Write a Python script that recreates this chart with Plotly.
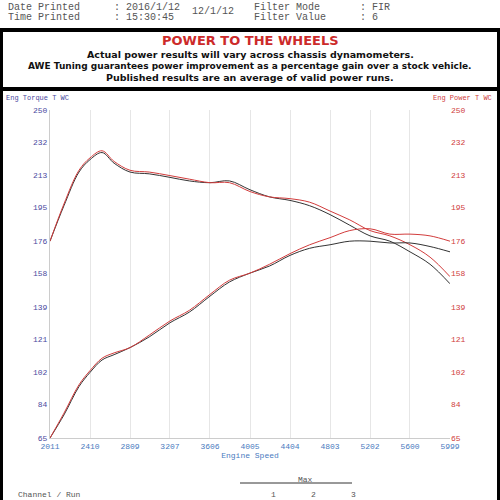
import plotly.graph_objects as go

rpm = [2011, 2150, 2300, 2410, 2530, 2650, 2809, 3000, 3207, 3400, 3606, 3800, 4005, 4200, 4404, 4600, 4803, 5000, 5202, 5400, 5600, 5800, 5999]
tq_black = [176, 196, 215, 222, 226, 220, 215, 214, 212, 210, 209, 210, 205, 201, 199, 196, 191, 185, 179, 176, 170, 163, 152]
tq_red = [176, 197, 216, 223, 227, 221, 216, 215, 213, 211, 209, 209, 204, 201, 200, 198, 193, 188, 182, 179, 174, 167, 156]
pw_black = [65, 78, 94, 102, 109, 112, 116, 122, 130, 136, 145, 153, 158, 162, 168, 172, 174, 176, 176, 175, 175, 173, 170]
pw_red = [65, 79, 95, 103, 110, 113, 116, 123, 131, 137, 146, 154, 158, 163, 169, 174, 178, 182, 183, 180, 180, 179, 176]
ticks = [65, 84, 102, 121, 139, 158, 176, 195, 213, 232, 250]
xticks = [2011, 2410, 2809, 3207, 3606, 4005, 4404, 4803, 5202, 5600, 5999]

fig = go.Figure()
for y, c in [(tq_black, "#333"), (tq_red, "#d23c3c"), (pw_black, "#333"), (pw_red, "#d23c3c")]:
    fig.add_trace(go.Scatter(x=rpm, y=y, mode="lines", line=dict(color=c, width=1, shape="spline"), showlegend=False))
fig.add_trace(go.Scatter(x=[2011], y=[65], yaxis="y2", mode="markers", marker=dict(opacity=0), showlegend=False))

mono = "Liberation Mono"
fig.update_layout(
    width=500, height=500, margin=dict(l=50, r=50, t=110, b=62, autoexpand=False),
    paper_bgcolor="white", plot_bgcolor="white",
    xaxis=dict(range=[2011, 5999], tickvals=xticks, tickfont=dict(family=mono, size=8, color="#4a7bc0"),
               showgrid=True, gridcolor="#e6e6e6", zeroline=False, showline=True, linecolor="#ccc", automargin=False,
               title=dict(text="Engine Speed", font=dict(family=mono, size=8, color="#4a7bc0"), standoff=2)),
    yaxis=dict(range=[65, 250], tickvals=ticks, tickfont=dict(family=mono, size=8, color="#4a4aa0"), automargin=False,
               showgrid=False, zeroline=False, showline=True, linecolor="#ccc"),
    yaxis2=dict(range=[65, 250], tickvals=ticks, overlaying="y", side="right", automargin=False,
                tickfont=dict(family=mono, size=8, color="#d04040"), showgrid=False, zeroline=False),
)
X = lambda px: (px - 50) / 400
Y = lambda py: (438 - py) / 328

def txt(px, py, t, size=10, color="#555", anchor="left", fam=mono, bold=False):
    fig.add_annotation(x=X(px), y=Y(py), xref="paper", yref="paper",
                       text=f"<b>{t}</b>" if bold else t, showarrow=False, xanchor=anchor, yanchor="middle",
                       font=dict(family=fam, size=size, color=color))

for px, py, t in [(6, 8, "Date Printed"), (6, 18, "Time Printed"), (112, 8, ": 2016/1/12"),
                  (112, 18, ": 15:30:45"), (190, 12, "12/1/12"), (252, 8, "Filter Mode"),
                  (252, 18, "Filter Value"), (358, 8, ": FIR"), (358, 18, ": 6")]:
    txt(px, py, t)
txt(250, 41, "POWER TO THE WHEELS", 13, "#cc2a2a", "center", "DejaVu Sans", True)
txt(250, 54, "Actual power results will vary across chassis dynamometers.", 9.5, "#111", "center", "DejaVu Sans", True)
txt(250, 66, "AWE Tuning guarantees power improvement as a percentage gain over a stock vehicle.", 9, "#111", "center", "DejaVu Sans", True)
txt(250, 77, "Published results are an average of valid power runs.", 9.5, "#111", "center", "DejaVu Sans", True)
txt(4, 98, "Eng Torque T WC", 7, "#4a4aa0")
txt(494, 98, "Eng Power T WC", 7, "#d04040", "right")
txt(296, 479, "Max", 8)
txt(16, 494, "Channel / Run", 8)
for px, t in [(273, "1"), (313, "2"), (353, "3")]:
    txt(px, 494, t, 8, anchor="center")
fig.add_shape(type="line", xref="paper", yref="paper", x0=X(240), x1=X(352), y0=Y(483), y1=Y(483), line=dict(color="#333", width=1))
for y0, y1 in [(28, 32), (87, 91)]:
    fig.add_shape(type="rect", xref="paper", yref="paper", x0=X(0), x1=X(500), y0=Y(y1), y1=Y(y0),
                  fillcolor="black", line_width=0)
for x0, x1 in [(0, 3), (497, 500)]:
    fig.add_shape(type="rect", xref="paper", yref="paper", x0=X(x0), x1=X(x1), y0=Y(500), y1=Y(28),
                  fillcolor="black", line_width=0)
fig.write_html("out.html", config={"displayModeBar": False}, post_script="document.body.style.margin='0';")
